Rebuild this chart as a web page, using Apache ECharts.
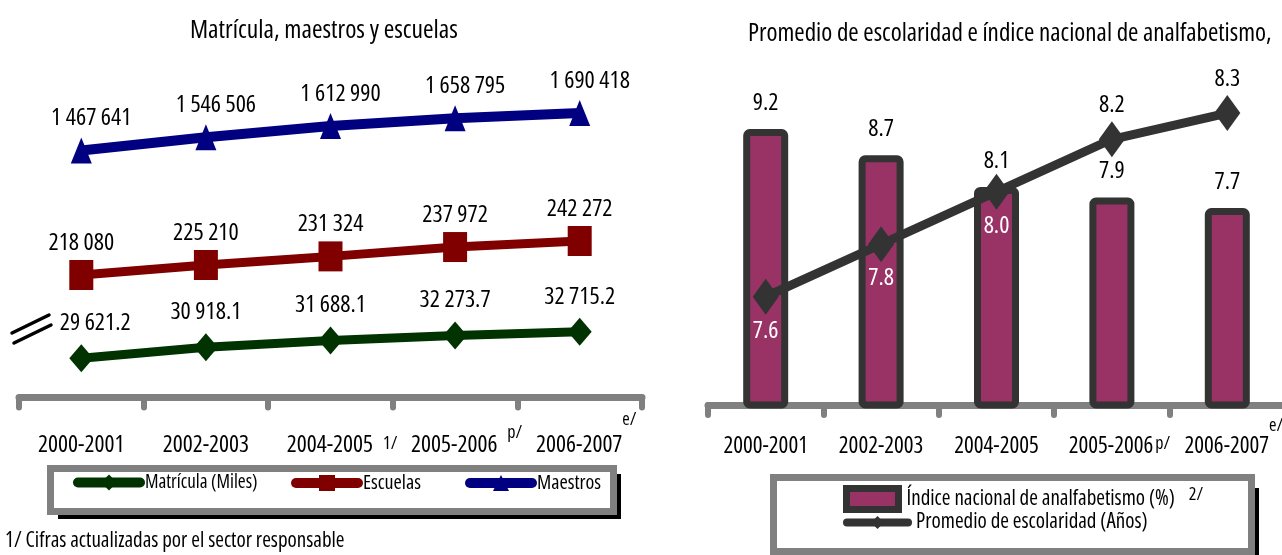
<!DOCTYPE html>
<html><head><meta charset="utf-8">
<script src="https://cdn.jsdelivr.net/npm/echarts@6/dist/echarts.min.js"></script>
<style>html,body{margin:0;padding:0;background:#fff}#c{width:1282px;height:555px}</style>
</head><body><div id="c"></div>
<script>
const categories = ['2000-2001', '2002-2003', '2004-2005', '2005-2006', '2006-2007'];
const leftSuper = ['', '', '1/', 'p/', 'e/'];
const rightSuper = ['', '', '', 'p/', 'e/'];
const matricula = [29621.2, 30918.1, 31688.1, 32273.7, 32715.2];
const escuelas = [218080, 225210, 231324, 237972, 242272];
const maestros = [1467641, 1546506, 1612990, 1658795, 1690418];
const analfabetismo = [9.2, 8.7, 8.1, 7.9, 7.7];
const promedio = [7.6, 7.8, 8.0, 8.2, 8.3];

const F = "'Open Sans', 'Roboto', sans-serif";
const T = (size, extra) => Object.assign({fontFamily: F, fontStyle: 'condensed', fontWeight: 'normal', fontSize: size, color: '#000'}, extra || {});

function fmt(v, dec) {
  const s = v.toFixed(dec);
  const parts = s.split('.');
  const ip = parts[0].replace(/\B(?=(\d{3})+(?!\d))/g, ' ');
  return parts.length > 1 ? ip + '.' + parts[1] : ip;
}
const supKey = {'1/': 'a1', 'p/': 'ap', 'e/': 'ae'};
const supKeyR = {'p/': 'bp', 'e/': 'be'};

const chart = echarts.init(document.getElementById('c'));
const gray = '#808080';
const SUPW = 13;
const main = (size, padL) => T(size, {lineHeight: 56, verticalAlign: 'middle', padding: [0, 0, 0, padL]});
const sup = (padB, gap) => T(18, {lineHeight: 56, verticalAlign: 'middle', padding: [0, 0, padB, gap]});
const axisFmt = (supers, keys) => (v, i) => {
  const s = supers[i];
  if (!s) return '{m|' + v + '}';
  const k = keys[s];
  return '{m' + k + '|' + v + '}{' + k + '|' + s + '}';
};

chart.setOption({
  animation: false,
  backgroundColor: '#fff',
  title: [
    {text: 'Matrícula, maestros y escuelas', left: 190, top: 18, padding: 0, textStyle: T(25.5)},
    {text: 'Promedio de escolaridad e índice nacional de analfabetismo,', left: 748, top: 21, padding: 0, textStyle: T(25)}
  ],
  grid: [
    {left: 19, right: 640, top: 60, bottom: 154, containLabel: false, outerBoundsMode: 'none'},
    {left: 708, right: -3, top: 60, bottom: 150, containLabel: false, outerBoundsMode: 'none'}
  ],
  xAxis: [
    {type: 'category', gridIndex: 0, data: categories, boundaryGap: true,
     axisLine: {lineStyle: {color: gray, width: 7, cap: 'round'}},
     axisTick: {show: true, interval: 0, length: 10, lineStyle: {color: gray, width: 6, cap: 'round'}},
     axisLabel: {interval: 0, margin: 16, color: '#000',
       formatter: axisFmt(leftSuper, supKey),
       rich: {
         m: main(23.5, 0),
         ma1: main(23.5, SUPW + 10), a1: sup(3, 10),
         map: main(23.5, SUPW + 10), ap: sup(24, 10),
         mae: main(23.5, SUPW), ae: sup(50, 0)
       }},
     splitLine: {show: false}},
    {type: 'category', gridIndex: 1, data: categories, boundaryGap: true,
     axisLine: {lineStyle: {color: gray, width: 7, cap: 'round'}},
     axisTick: {show: true, interval: 0, length: 10, lineStyle: {color: gray, width: 6, cap: 'round'}},
     axisLabel: {interval: 0, margin: 13, color: '#000',
       formatter: axisFmt(rightSuper, supKeyR),
       rich: {
         m: main(23, 0),
         mbp: main(23, SUPW + 2), bp: sup(4, 2),
         mbe: main(23, SUPW), be: sup(41, 0)
       }},
     splitLine: {show: false}}
  ],
  yAxis: [
    {type: 'value', gridIndex: 0, show: false, min: 24654.5, max: 64318.5},
    {type: 'value', gridIndex: 0, show: false, min: 128426, max: 371062},
    {type: 'value', gridIndex: 0, show: false, min: -20513, max: 2005270},
    {type: 'value', gridIndex: 1, show: false, min: 3.96, max: 10.51},
    {type: 'value', gridIndex: 1, show: false, min: 7.1873, max: 8.5021}
  ],
  legend: [
    {data: ['Matrícula (Miles)'], left: 73, top: 473, padding: 0, itemWidth: 62, itemHeight: 20,
     lineStyle: {width: 10, cap: 'round'}, textStyle: T(19)},
    {data: ['Escuelas'], left: 291, top: 473, padding: 0, itemWidth: 62, itemHeight: 20,
     lineStyle: {width: 10, cap: 'round'}, textStyle: T(20)},
    {data: ['Maestros'], left: 465, top: 473, padding: 0, itemWidth: 62, itemHeight: 20,
     lineStyle: {width: 10, cap: 'round'}, textStyle: T(20)},
    {data: ['Índice nacional de analfabetismo (%)'], left: 843, top: 485, padding: 0, itemWidth: 52, itemHeight: 21,
     icon: 'rect', itemStyle: {borderColor: '#333333', borderWidth: 7},
     formatter: n => '{m|' + n + '}{s|2/}',
     textStyle: T(21, {rich: {m: T(21, {padding: [0, 0, 0, 3]}), s: T(18, {padding: [0, 0, 8, 14]})}})},
    {data: ['Promedio de escolaridad (Años)'], left: 843, top: 512, padding: 0, itemWidth: 61, itemHeight: 16,
     lineStyle: {width: 8, cap: 'round'},
     formatter: n => '{m|' + n + '}',
     textStyle: T(21, {rich: {m: T(21, {padding: [0, 0, 0, 3]})}})}
  ],
  graphic: [
    {type: 'rect', z: 0, shape: {x: 58, y: 474, width: 563, height: 45}, style: {fill: '#000'}},
    {type: 'rect', z: 1, shape: {x: 50.5, y: 468.5, width: 563, height: 43}, style: {fill: '#fff', stroke: gray, lineWidth: 7}},
    {type: 'rect', z: 0, shape: {x: 780, y: 488, width: 479, height: 80}, style: {fill: '#000'}},
    {type: 'rect', z: 1, shape: {x: 773.5, y: 477.5, width: 478, height: 74}, style: {fill: '#fff', stroke: gray, lineWidth: 7}},
    {type: 'line', shape: {x1: 12, y1: 333, x2: 49, y2: 315}, style: {stroke: '#000', lineWidth: 3.5, lineCap: 'round'}},
    {type: 'line', shape: {x1: 14, y1: 343, x2: 51, y2: 325}, style: {stroke: '#000', lineWidth: 3.5, lineCap: 'round'}},
    {type: 'text', x: 5, y: 541, style: {text: '1/ Cifras actualizadas por el sector responsable', fontFamily: F, fontStyle: 'condensed', fontSize: 21, fill: '#000', verticalAlign: 'middle'}}
  ],
  series: [
    {name: 'Matrícula (Miles)', type: 'line', xAxisIndex: 0, yAxisIndex: 0,
     data: matricula.map((v, i) => i === 0 ? {value: v, label: {offset: [14, 0]}} : v),
     symbol: 'diamond', symbolSize: [24, 28], color: '#003300',
     lineStyle: {width: 9, color: '#003300'}, itemStyle: {color: '#003300'},
     label: T(24, {show: true, position: 'top', distance: 9, formatter: p => fmt(p.value, 1)})},
    {name: 'Escuelas', type: 'line', xAxisIndex: 0, yAxisIndex: 1, data: escuelas,
     symbol: 'rect', symbolSize: [24, 30], color: '#800000',
     lineStyle: {width: 9, color: '#800000'}, itemStyle: {color: '#800000'},
     label: T(24, {show: true, position: 'top', distance: 5, formatter: p => fmt(p.value, 0)})},
    {name: 'Maestros', type: 'line', xAxisIndex: 0, yAxisIndex: 2, data: maestros,
     symbol: 'triangle', symbolSize: [21, 26], color: '#000080',
     lineStyle: {width: 10, color: '#000080'}, itemStyle: {color: '#000080'},
     label: T(24, {show: true, position: 'top', distance: 7, offset: [10, 0], formatter: p => fmt(p.value, 0)})},
    {name: 'Índice nacional de analfabetismo (%)', type: 'bar', xAxisIndex: 1, yAxisIndex: 3, data: analfabetismo,
     barWidth: 45, color: '#993366',
     itemStyle: {color: '#993366', borderColor: '#333333', borderWidth: 7, borderRadius: 3},
     label: T(24, {show: true, position: 'top', distance: 14, formatter: p => p.value.toFixed(1)})},
    {name: 'Promedio de escolaridad (Años)', type: 'line', xAxisIndex: 1, yAxisIndex: 4, z: 5,
     data: promedio.map((v, i) => ({value: v, label: i < 3 ? {position: 'bottom', color: '#fff'} : {position: 'top', color: '#000'}})),
     symbol: 'diamond', symbolSize: [26, 36], color: '#333333',
     lineStyle: {width: 9, color: '#333333'}, itemStyle: {color: '#333333'},
     label: T(24, {show: true, distance: 4, formatter: p => p.value.toFixed(1)})}
  ]
});
</script></body></html>
